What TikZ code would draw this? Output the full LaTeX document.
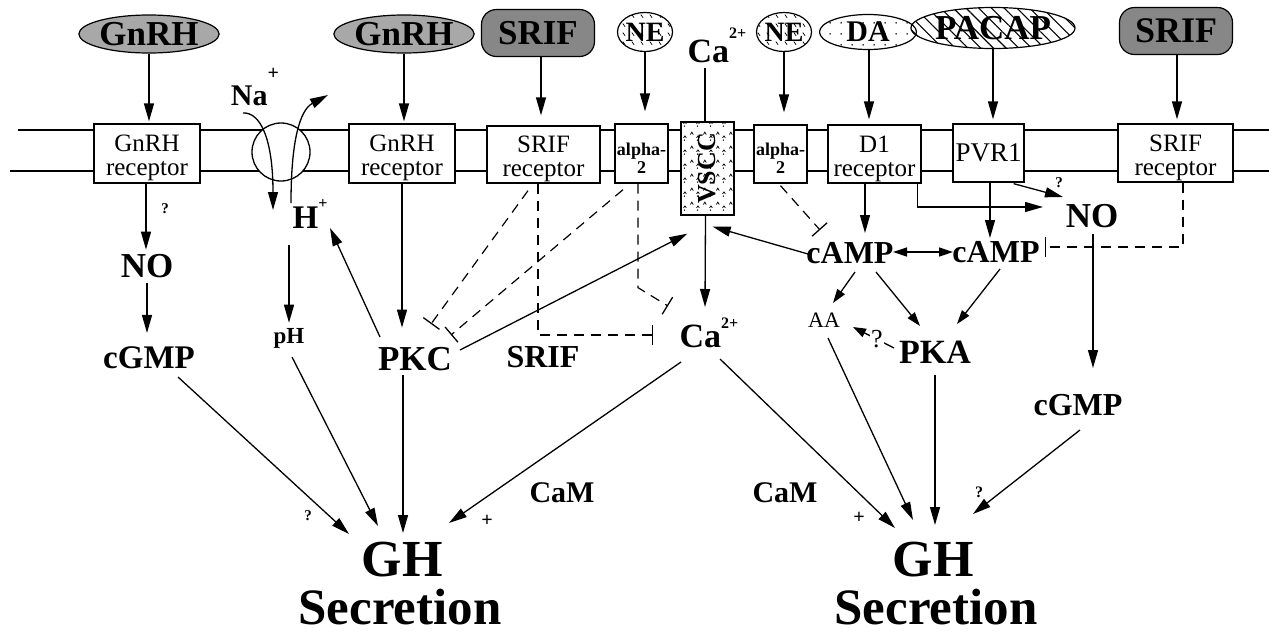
\documentclass[tikz,border=0pt]{standalone}
\usepackage{fontspec}
\setmainfont{Liberation Serif}
\usetikzlibrary{arrows.meta,shapes.geometric,patterns,patterns.meta}

\newcommand\fsz[1]{\fontsize{#1}{#1}\selectfont}

\definecolor{gnrhgray}{gray}{0.66}
\definecolor{srifgray}{gray}{0.53}

% fill textures
\tikzdeclarepattern{name=nedash, type=uncolored,
  bottom left={(0pt,0pt)}, top right={(9pt,9pt)}, tile size={(9pt,9pt)},
  code={\draw[line width=0.8pt] (2pt,7pt) -- (4.5pt,3.5pt);}}
\tikzdeclarepattern{name=dadots, type=uncolored,
  bottom left={(0pt,0pt)}, top right={(11pt,11pt)}, tile size={(11pt,11pt)},
  code={\fill (5.5pt,5.5pt) circle (0.9pt);}}
\tikzdeclarepattern{name=vsccmarks, type=uncolored,
  bottom left={(0pt,0pt)}, top right={(13pt,14pt)}, tile size={(13pt,14pt)},
  code={\draw[line width=0.8pt] (1.5pt,9pt) -- (3pt,11.5pt) -- (4.5pt,9pt);
        \fill (9pt,3pt) circle (0.8pt);
        \draw[line width=0.8pt] (8pt,5.5pt) -- (9.5pt,7.5pt) -- (11pt,5.5pt);}}

\begin{document}
\begin{tikzpicture}[x=1pt,y=-1pt,
  lab/.style={inner sep=0pt, anchor=base, font=\bfseries\fsz{#1}},
  lig/.style={draw, line width=1.2pt, inner sep=0pt, font=\bfseries\fsz{#1}},
  rec/.style={draw, line width=1.3pt, fill=white, inner sep=0pt, align=center,
              font=\fontsize{25}{24}\selectfont},
  mem/.style={line width=1.3pt},
  arr/.style={line width=1.3pt, -{Triangle[length=18pt,width=10pt]}},
  arrs/.style={line width=1.3pt, -{Triangle[length=14pt,width=9pt]}},
  inh/.style={line width=1.2pt, dash pattern=on 10pt off 7pt,
              -{Bar[width=20pt,line width=1.3pt]}}]
\useasboundingbox (0,0) rectangle (1269,633);

% plasma membrane
\draw[mem] (18,130) -- (1269,130);
\draw[mem] (10,171) -- (1269,171);

% ligands
\node[lig=35, ellipse, fill=gnrhgray, minimum width=122pt, minimum height=38pt] (gnrhA) at (149,34) {GnRH};
\node[lig=35, ellipse, fill=gnrhgray, minimum width=122pt, minimum height=38pt] (gnrhB) at (404,34) {GnRH};
\node[lig=35, rectangle, rounded corners=15pt, fill=srifgray, minimum width=113pt, minimum height=47pt] (srifA) at (538,33) {SRIF};
\node[lig=28, ellipse, pattern=nedash, minimum width=54pt, minimum height=39pt] (neA) at (645,32) {NE};
\node[lig=28, ellipse, pattern=nedash, minimum width=52pt, minimum height=39pt] (neB) at (784,32) {NE};
\node[lig=30, ellipse, pattern=dadots, minimum width=97pt, minimum height=35pt] (da) at (868,32) {DA};
\node[lig=35, ellipse, pattern={Lines[angle=-45,distance=9pt,line width=1.1pt]}, minimum width=140pt, minimum height=41pt] (pacap) at (993,28) {PACAP};
\node[lig=36, rectangle, rounded corners=15pt, fill=srifgray, minimum width=113pt, minimum height=47pt] (srifB) at (1176,31) {SRIF};

% membrane proteins
\node[rec, minimum width=106pt, minimum height=59pt] (rA) at (147,153.5) {\rule{0pt}{26pt}GnRH\\receptor};
\node[circle, draw, fill=white, line width=1.3pt, minimum size=58pt, inner sep=0pt] (ex) at (281,152) {};
\node[rec, minimum width=106pt, minimum height=59pt] (rB) at (402,153.5) {\rule{0pt}{26pt}GnRH\\receptor};
\node[rec, minimum width=113pt, minimum height=57pt] (rC) at (543.5,154.5) {\rule{0pt}{26pt}SRIF\\receptor};
\node[rec, font=\bfseries\fontsize{18}{18}\selectfont, minimum width=53pt, minimum height=59pt] (alA) at (641.5,153.5) {\rule{0pt}{21pt}alpha-\\2};
\node[rec, preaction={fill=white}, pattern=vsccmarks, minimum width=53pt, minimum height=93pt] (vscc) at (707.5,168.5) {\rotatebox{90}{\bfseries\fsz{26}VSCC}};
\node[rec, font=\bfseries\fontsize{18}{18}\selectfont, minimum width=53pt, minimum height=58pt] (alB) at (780.5,154) {\rule{0pt}{21pt}alpha-\\2};
\node[rec, minimum width=93pt, minimum height=58pt] (d1) at (874.5,154) {\rule{0pt}{27pt}D1\\receptor};
\node[rec, font=\fsz{27}, minimum width=71pt, minimum height=58pt] (pvr) at (988.5,153) {PVR1};
\node[rec, minimum width=115pt, minimum height=58pt] (rD) at (1175.5,153) {\rule{0pt}{26pt}SRIF\\receptor};

% messengers and effectors
\node[lab=15] (q1) at (165,213) {?};
\node[lab=35] (no1) at (147,277) {NO};
\node[lab=33] (cgmp1) at (149,368) {cGMP};
\node[lab=30] (na) at (255,105) {Na\raisebox{26pt}{\fsz{20}+}};
\node[lab=33] (hp) at (310,228) {H\raisebox{20pt}{\fsz{16}+}};
\node[lab=23] (ph) at (289,343) {pH};
\node[lab=35] (pkc) at (415,370) {PKC};
\node[lab=32] (srifl) at (543,367) {SRIF};
\node[lab=34] (ca2) at (709,347) {Ca\raisebox{19pt}{\fsz{16}2+}};
\node[lab=34] (catop) at (717,62) {Ca\raisebox{24pt}{\fsz{16}2+}};
\node[lab=32] (camp1) at (850,263) {cAMP};
\node[lab=32] (camp2) at (996,262) {cAMP};
\node[lab=35] (no2) at (1092,227) {NO};
\node[lab=15] (qno) at (1059,187) {?};
\node[inner sep=0pt, anchor=base, font=\fsz{22}] (aa) at (824,327) {AA};
\node[lab=34] (pka) at (935,363) {PKA};
\node[lab=32] (cgmp2) at (1078,415) {cGMP};
\node[lab=30] (cam1) at (562,502) {CaM};
\node[lab=30] (cam2) at (785,502) {CaM};
\node[lab=20] (pl1) at (487,526) {+};
\node[lab=20] (pl2) at (859,523) {+};
\node[lab=15] (q2) at (308,520) {?};
\node[lab=16] (q3) at (979,497) {?};
\node[lab=52] (gh1) at (402,576) {GH};
\node[lab=51] (sec1) at (400,624) {Secretion};
\node[lab=52] (gh2) at (933,576) {GH};
\node[lab=51] (sec2) at (936,624) {Secretion};

% ligand binding
\draw[arr, shorten >=2pt] (gnrhA) -- (gnrhA |- rA.north);
\draw[arr, shorten >=2pt] (gnrhB) -- (gnrhB |- rB.north);
\draw[arr, shorten >=10pt] ([shift={(3,0)}]srifA.south) -- ([shift={(3,0)}]srifA.south |- rC.north);
\draw[arr, shorten >=12pt] (neA) -- (neA |- alA.north);
\draw[line width=1.3pt] ([shift={(-12,6)}]catop.base) -- ([shift={(-12,0)}]catop.base |- vscc.north);
\draw[arr, shorten >=12pt] (neB) -- (neB |- alB.north);
\draw[arr, shorten >=5pt] ([shift={(1,0)}]da.south) -- ([shift={(1,0)}]da.south |- d1.north);
\draw[arr, shorten >=4pt] (pacap) -- (pacap |- pvr.north);
\draw[arr, shorten >=4pt] ([shift={(1,0)}]srifB.south) -- ([shift={(1,0)}]srifB.south |- rD.north);

% Na+/H+ exchange
\draw[arr] ([shift={(-38,-39)}]ex.center) .. controls ([shift={(-21,-40)}]ex.center) and ([shift={(-8,-14)}]ex.center) .. ([shift={(-8,58)}]ex.center);
\draw[arr] ([shift={(10,51)}]ex.center) .. controls ([shift={(10,-12)}]ex.center) and ([shift={(19,-42)}]ex.center) .. ([shift={(47,-57)}]ex.center);

% left pathways
\draw[arr, shorten >=4pt] ([shift={(-1,0)}]rA.south) -- ([shift={(-1,0)}]rA.south |- no1.north);
\draw[arr, shorten <=5pt, shorten >=13pt] (no1.south) -- (no1.south |- cgmp1.north);
\draw[arr] ([shift={(29,9)}]cgmp1.base) -- ([shift={(-53,-42)}]gh1.base);
\draw[arr, shorten <=17pt, shorten >=5pt] (ph.north |- hp.south) -- (ph.north);
\draw[arr] ([shift={(-35,-33)}]pkc.base) -- ([shift={(20,0)}]hp.base);
\draw[arr, shorten >=19pt] (rB.south) -- (rB.south |- pkc.north);
\draw[arr] ([shift={(-12,5)}]pkc.base) -- ([shift={(1,-43)}]gh1.base);
\draw[arr] ([shift={(3,14)}]ph.base) -- ([shift={(-24,-50)}]gh1.base);
\draw[arr] ([shift={(45,-20)}]pkc.base) -- ([shift={(7,18)}]vscc.south west);

% inhibition by SRIF and alpha-2
\draw[inh] ([shift={(-15.5,7)}]rC.south) -- ([shift={(16,-46)}]pkc.base);
\draw[inh] ([shift={(-18.5,6)}]alA.south) -- ([shift={(36,-35)}]pkc.base);
\draw[inh] ([shift={(-5.5,0)}]rC.south) |- ([shift={(-56,-12)}]ca2.base);
\draw[inh] ([shift={(-3.5,0)}]alA.south) -- ([shift={(-3.5,104)}]alA.south) -- ([shift={(-41,-41)}]ca2.base);
\draw[inh] ([shift={(0,2)}]alB.south) -- ([shift={(-30,-33)}]camp1.base);
\draw[inh] ([shift={(7.5,0)}]rD.south) |- ([shift={(49,-15)}]camp2.base);

% calcium
\draw[arr] ([shift={(-2,0)}]vscc.south) -- ([shift={(-4,-40)}]ca2.base);
\draw[arr] ([shift={(-28,15)}]ca2.base) -- ([shift={(47,-53)}]gh1.base);
\draw[arr] ([shift={(11,12)}]ca2.base) -- ([shift={(-38,-48)}]gh2.base);

% right pathways
\draw[arr] ([shift={(-9.5,0)}]d1.south) -- ([shift={(15,-30)}]camp1.base);
\draw[arr] ([shift={(-4,0)}]d1.south east) |- ([shift={(-49,-20)}]no2.base);
\draw[arr] ([shift={(-11,1)}]pvr.south east) -- ([shift={(-29,-30)}]no2.base);
\draw[arr] ([shift={(1.5,0)}]pvr.south) -- ([shift={(-6,-24)}]camp2.base);
\draw[line width=1.3pt, {Triangle[length=14pt,width=9pt]}-{Triangle[length=14pt,width=9pt]}] ([shift={(43,-11)}]camp1.base) -- ([shift={(-43,-10)}]camp2.base);
\draw[arr] ([shift={(-42,-9)}]camp1.base) -- ([shift={(-22,11)}]vscc.south east);
\draw[arr] ([shift={(1,7)}]no2.base) -- ([shift={(15,-47)}]cgmp2.base);
\draw[arr] ([shift={(2,15)}]cgmp2.base) -- ([shift={(40,-62)}]gh2.base);
\draw[arrs] ([shift={(5,9)}]camp1.base) -- ([shift={(9,-24)}]aa.base);
\draw[arrs] ([shift={(26,9)}]camp1.base) -- ([shift={(-15,-37)}]pka.base);
\draw[arrs] ([shift={(4,7)}]camp2.base) -- ([shift={(22,-39)}]pka.base);
\draw[line width=1.3pt, -{Triangle[length=13pt,width=9pt]}] ([shift={(-41,-15)}]pka.base) -- node[pos=0.42, fill=white, inner sep=1.5pt, font=\fsz{26}] (qpk) {?} ([shift={(29,0)}]aa.base);
\draw[arr] ([shift={(4,11)}]aa.base) -- ([shift={(-20,-56)}]gh2.base);
\draw[arr] ([shift={(0,12)}]pka.base) -- ([shift={(2,-51)}]gh2.base);
\end{tikzpicture}
\end{document}
